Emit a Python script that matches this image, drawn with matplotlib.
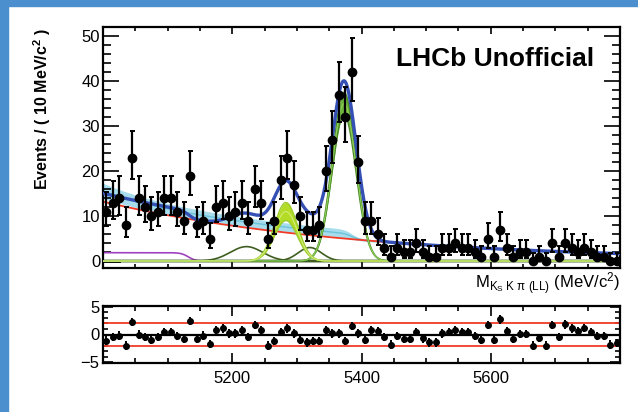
import numpy as np
import matplotlib
matplotlib.use("Agg")
import matplotlib.pyplot as plt
from matplotlib.patches import Rectangle
from matplotlib.ticker import MultipleLocator, FixedLocator

plt.rcParams['font.family'] = ['Liberation Sans', 'DejaVu Sans']
plt.rcParams['mathtext.fontset'] = 'custom'
plt.rcParams['mathtext.rm'] = 'Liberation Sans'
plt.rcParams['mathtext.it'] = 'Liberation Sans:italic'
plt.rcParams['mathtext.bf'] = 'Liberation Sans:bold'

# ---------------- data ----------------
bin_centers = np.arange(5005, 5800, 10)
counts = [11, 13, 14, 8, 23, 14, 12, 10, 11, 14,
          14, 11, 9, 19, 8, 9, 5, 12, 13, 10,
          11, 13, 9, 16, 13, 5, 9, 18, 23, 17,
          10, 7, 7, 8, 20, 27, 37, 32, 42, 22,
          9, 9, 6, 3, 1, 3, 2, 2, 4, 2,
          1, 1, 3, 3, 4, 3, 3, 2, 1, 5,
          1, 7, 3, 1, 2, 2, 0, 1, 0, 4,
          1, 4, 3, 2, 3, 2, 1, 1, 0, 0]
pulls = [-1.1, -0.5, -0.2, -2.0, 2.2, 0.0, -0.5, -0.9, -0.5, 0.4,
         0.4, -0.3, -0.8, 2.4, -0.8, -0.2, -1.7, 0.8, 1.1, 0.2,
         0.2, 0.8, -0.5, 1.7, 0.8, -2.0, -1.2, 0.4, 1.1, 0.2,
         -0.9, -1.4, -1.2, -1.2, 0.8, 0.2, 0.2, -1.2, 1.5, 0.2,
         -0.9, 0.8, 0.6, -0.5, -1.8, -0.3, -0.8, -0.8, 0.5, -0.7,
         -1.4, -1.4, 0.2, 0.4, 0.8, 0.4, 0.4, -0.3, -0.9, 1.7,
         -0.9, 2.7, 0.6, -0.8, 0.1, 0.1, -2.0, -0.6, -2.0, 1.7,
         -0.5, 1.8, 1.1, 0.6, 1.2, 0.5, -0.3, -0.3, -1.8, -1.5]
x_ticklabels = ["", "5200", "5400", "5600", ""]
x_tickvalues = [5000, 5200, 5400, 5600, 5800]

# fit-component parameters
comb_amp, comb_slope = 13.2, 0.0026          # red exponential
part_amp, part_edge, part_w = 1.85, 5132, 11  # purple
bump1_amp, bump1_mu, bump1_sig = 3.2, 5222, 25
bump2_amp, bump2_mu, bump2_sig = 3.0, 5320, 18
b0_amp, b0_mu, b0_sig, b0_band = 11.0, 5283, 18, 2.0
bs_amp, bs_mu, bs_sig, bs_band = 35.0, 5373, 18.5, 2.5
cyan_amp, cyan_amp2, cyan_edge = 1.2, 1.2, 5385

counts = np.array(counts, dtype=float)
pulls = np.array(pulls)

# asymmetric Poisson errors (Gehrels approximation)
n = counts
nn = np.maximum(n, 1)
err_hi = np.sqrt(n + 0.75) + 1.0
err_lo = np.where(n > 0, n - n * (1 - 1 / (9 * nn) - 1 / (3 * np.sqrt(nn))) ** 3, 0.0)

xm = np.linspace(5000, 5800, 1601)

def gauss(x, a, mu, s):
    return a * np.exp(-0.5 * ((x - mu) / s) ** 2)

def step(x, edge, w):
    return 0.5 * (1 - np.tanh((x - edge) / w))

red = comb_amp * np.exp(-comb_slope * (xm - 5000))
purple = part_amp * step(xm, part_edge, part_w)
bump1 = gauss(xm, bump1_amp, bump1_mu, bump1_sig)
bump2 = gauss(xm, bump2_amp, bump2_mu, bump2_sig)
b0 = gauss(xm, b0_amp, b0_mu, b0_sig)
bs = gauss(xm, bs_amp, bs_mu, bs_sig)
total = red + purple + bump1 + bump2 + b0 + bs
cyan = red + (cyan_amp + cyan_amp2 * np.exp(-(xm - 5000) / 60)) * step(xm, cyan_edge, 12)
cyan_hw = (0.9 + 0.8 * np.exp(-(xm - 5000) / 100)) * (0.25 + 0.75 * step(xm, cyan_edge, 12))

# ---------------- figure ----------------
W, H = 638, 412
fig = plt.figure(figsize=(W / 100, H / 100), dpi=100)
fig.patch.set_facecolor('white')
fig.patches.append(Rectangle((0, 0), 8 / W, 1, transform=fig.transFigure, color='#4b8fcf', zorder=0))
fig.patches.append(Rectangle((0, 1 - 6 / H), 1, 6 / H, transform=fig.transFigure, color='#4b8fcf', zorder=0))

ax = fig.add_axes([103 / W, 1 - 268 / H, (620 - 103) / W, (268 - 27) / H])
axr = fig.add_axes([103 / W, 1 - 363 / H, (620 - 103) / W, (363 - 306) / H])

# main panel
ax.fill_between(xm, cyan - cyan_hw, cyan + cyan_hw, color='#a6dcec', lw=0, zorder=1)
ax.plot(xm, cyan, color='#6cc3da', lw=1.0, zorder=1.2)
ax.plot(xm, red, color='#f03a26', lw=1.3, zorder=2)
ax.plot(xm, purple, color='#a043c2', lw=1.2, zorder=2)
ax.plot(xm, np.zeros_like(xm), color='#2f4d18', lw=2.0, zorder=2)
ax.plot([5000, 5025], [0, 0], color='black', lw=2.0, zorder=2.1)
ax.plot(xm, bump1, color='#3f5f20', lw=1.2, zorder=2.2)
ax.plot(xm, bump2, color='#3f5f20', lw=1.2, zorder=2.2)
bs_lo = bs * (1 - bs_band / bs_amp)
bs_hi = bs * (1 + bs_band / bs_amp)
ax.fill_between(xm, bs_lo, bs_hi, color='#6cb33c', lw=0, zorder=2.5)
ax.plot(xm, bs_lo, color='#4a8a26', lw=1.0, zorder=2.6)
ax.plot(xm, bs_hi, color='#4a8a26', lw=1.0, zorder=2.6)
ax.plot(xm, bs, color='#8fcf5a', lw=0.8, zorder=2.7)
b0_lo = b0 * (1 - b0_band / b0_amp)
b0_hi = b0 * (1 + b0_band / b0_amp)
ax.fill_between(xm, b0_lo, b0_hi, color='#b4dc26', lw=0, zorder=2.5)
ax.plot(xm, b0_lo, color='#9acb2e', lw=1.0, zorder=2.6)
ax.plot(xm, b0_hi, color='#9acb2e', lw=1.0, zorder=2.6)
ax.plot(xm, b0, color='#d3ec7a', lw=0.8, zorder=2.7)
ax.plot(xm, total, color='#3550b4', lw=2.4, zorder=3)

ax.errorbar(bin_centers, counts, yerr=[err_lo, err_hi], fmt='o', color='black',
            ms=6, elinewidth=1.6, capsize=1.8, capthick=1.4, zorder=5)

ax.set_xlim(5000, 5800)
ax.set_ylim(-1.55, 52)
ax.xaxis.set_major_locator(MultipleLocator(200))
ax.xaxis.set_minor_locator(MultipleLocator(50))
ax.yaxis.set_major_locator(MultipleLocator(10))
ax.yaxis.set_minor_locator(MultipleLocator(2))
ax.tick_params(axis='both', which='both', direction='in', top=True, right=True)
ax.tick_params(axis='x', which='major', length=5.2, width=1.2, labelbottom=False)
ax.tick_params(axis='x', which='minor', length=3.0, width=1.2)
ax.tick_params(axis='y', which='major', length=11.5, width=1.2, labelsize=12, pad=2)
ax.tick_params(axis='y', which='minor', length=5.5, width=1.2)
for s in ax.spines.values():
    s.set_linewidth(1.6)

fig.text(396 / W, 1 - 59 / H, "LHCb Unofficial",
         fontsize=19, fontweight='bold', ha='left', va='center')
fig.text(620 / W, 1 - 284 / H,
         r"M$_{\mathrm{K_S\ K\ \pi\ (LL)}}$ (MeV/c$^{2}$)",
         fontsize=12, ha='right', va='center')
fig.text(42 / W, 1 - 28 / H, r"Events / ( 10 MeV/c$^{\mathbf{2}}$ )",
         fontsize=11.5, fontweight='bold', rotation=90, ha='center', va='top')

# residual panel
axr.axhline(0, color='black', lw=1.6, zorder=2)
axr.axhline(2, color='#f03a26', lw=1.3, zorder=2)
axr.axhline(-2, color='#f03a26', lw=1.3, zorder=2)
axr.errorbar(bin_centers, pulls, yerr=0.75, xerr=2.5, fmt='o', color='black',
             ms=4, elinewidth=1.4, capsize=0, zorder=5)
axr.set_xlim(5000, 5800)
axr.set_ylim(-5.1, 5.1)
axr.xaxis.set_major_locator(FixedLocator(x_tickvalues))
axr.set_xticklabels(x_ticklabels)
axr.xaxis.set_minor_locator(MultipleLocator(50))
axr.yaxis.set_major_locator(FixedLocator([-5, 0, 5]))
axr.yaxis.set_minor_locator(MultipleLocator(1))
axr.tick_params(axis='both', which='both', direction='in', top=True, right=True)
axr.tick_params(axis='x', which='major', length=7, width=1.2, labelsize=12, pad=6)
axr.tick_params(axis='x', which='minor', length=3.6, width=1.2)
axr.tick_params(axis='y', which='major', length=7, width=1.2, labelsize=12, pad=2.5)
axr.tick_params(axis='y', which='minor', length=3.6, width=1.2)
for s in axr.spines.values():
    s.set_linewidth(1.6)

fig.savefig("out.png", dpi=100)
